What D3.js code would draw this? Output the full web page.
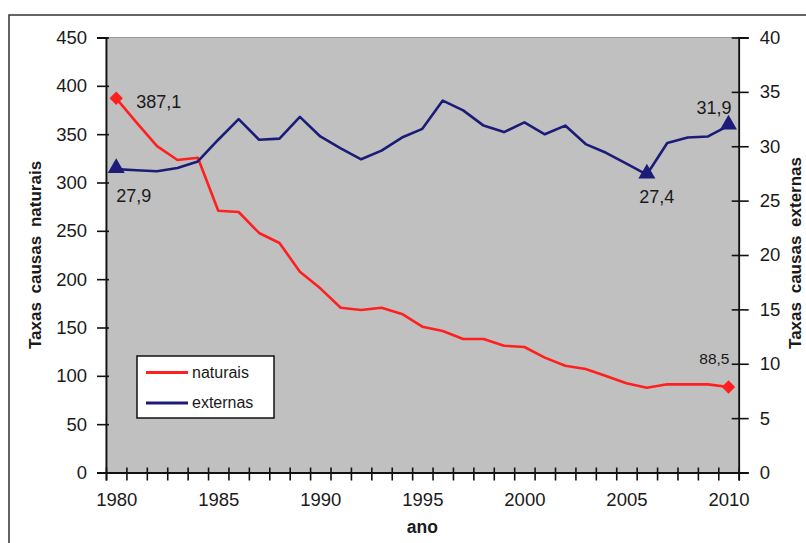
<!DOCTYPE html>
<html>
<head>
<meta charset="utf-8">
<script src="https://cdn.jsdelivr.net/npm/d3@7"></script>
<style>
  body { margin: 0; background: #fff; }
  svg text { font-family: "Liberation Sans", Arial, sans-serif; fill: #1a1a1a; }
</style>
</head>
<body>
<div id="chart"></div>
<script>
// Years on the category axis
const years = d3.range(1980, 2011);

// Rates from natural causes (left axis)
const naturais = [
  387.1, 362, 337.7, 323.3, 325.6, 270.8, 269.5, 247.8, 237.4, 207.7,
  190.5, 170.5, 168.1, 170.5, 164, 150.8, 146.4, 138.1, 138.1, 131.2,
  129.8, 118.8, 110.5, 107.1, 99.8, 92.3, 87.7, 91.2, 91.2, 91.2, 88.5
];

// Rates from external causes (right axis)
const externas = [
  27.9, 27.8, 27.7, 28.0, 28.6, 30.6, 32.5, 30.6, 30.7, 32.7,
  30.9, 29.8, 28.8, 29.6, 30.8, 31.6, 34.2, 33.3, 31.9, 31.3,
  32.2, 31.1, 31.9, 30.2, 29.4, 28.4, 27.4, 30.3, 30.8, 30.9, 31.9
];

const leftTicks = d3.range(0, 451, 50);
const rightTicks = d3.range(0, 41, 5);
const labelYears = [1980, 1985, 1990, 1995, 2000, 2005, 2010];

const width = 806;
const height = 543;
const plot = { left: 106, right: 738.7, top: 37.5, bottom: 472.5 };

const svg = d3.select("#chart")
  .append("svg")
  .attr("width", width)
  .attr("height", height);

// outer chart frame
svg.append("rect")
  .attr("x", 9).attr("y", 15)
  .attr("width", 900).attr("height", 600)
  .attr("fill", "none")
  .attr("stroke", "#333")
  .attr("stroke-width", 1.5);

// scales: categories sit between the tick marks, like Excel
const x = d3.scaleLinear().domain([1979.5, 2010.5]).range([plot.left, plot.right]);
const yL = d3.scaleLinear().domain([0, 450]).range([plot.bottom, plot.top]);
const yR = d3.scaleLinear().domain([0, 40]).range([plot.bottom, plot.top]);

// gray plot area
svg.append("rect")
  .attr("x", plot.left).attr("y", plot.top)
  .attr("width", plot.right - plot.left)
  .attr("height", plot.bottom - plot.top)
  .attr("fill", "#c0c0c0")
  .attr("stroke", "#9a9a9a")
  .attr("stroke-width", 1);

// left axis
const gL = svg.append("g")
  .attr("transform", `translate(${plot.left},0)`)
  .call(d3.axisLeft(yL).tickValues(leftTicks).tickSize(9).tickPadding(10));
gL.selectAll(".tick line").attr("x1", 3);

// right axis
const gR = svg.append("g")
  .attr("transform", `translate(${plot.right},0)`)
  .call(d3.axisRight(yR).tickValues(rightTicks).tickSize(10).tickPadding(11));
gR.selectAll(".tick line").attr("x1", -7);

// bottom axis: ticks on category edges
const gB = svg.append("g")
  .attr("transform", `translate(0,${plot.bottom})`)
  .call(d3.axisBottom(x).tickValues(d3.range(1979.5, 2011, 1)).tickSize(8).tickFormat(""));
gB.selectAll(".tick line").attr("y1", -5);

// bottom axis labels at category centres
const gB2 = svg.append("g")
  .attr("transform", `translate(0,${plot.bottom})`)
  .call(d3.axisBottom(x).tickValues(labelYears).tickSize(0).tickPadding(20).tickFormat(d3.format("d")));
gB2.select(".domain").remove();

[gL, gR, gB].forEach(g => {
  g.select(".domain").attr("stroke", "#111").attr("stroke-width", 1.8);
  g.selectAll(".tick line").attr("stroke", "#111").attr("stroke-width", 1.6);
});
[gL, gR, gB2].forEach(g => {
  g.selectAll(".tick text")
    .attr("font-size", 18.5)
    .attr("fill", "#1a1a1a")
    .style("font-family", "'Liberation Sans', Arial, sans-serif");
});

// axis titles
svg.append("text")
  .attr("transform", `translate(41,255) rotate(-90)`)
  .attr("text-anchor", "middle")
  .attr("font-size", 17)
  .attr("font-weight", "bold")
  .attr("word-spacing", 4)
  .text("Taxas causas naturais");

svg.append("text")
  .attr("transform", `translate(801,253) rotate(-90)`)
  .attr("text-anchor", "middle")
  .attr("font-size", 17)
  .attr("font-weight", "bold")
  .attr("word-spacing", 4)
  .text("Taxas causas externas");

svg.append("text")
  .attr("x", (plot.left + plot.right) / 2)
  .attr("y", 533)
  .attr("text-anchor", "middle")
  .attr("font-size", 17.5)
  .attr("font-weight", "bold")
  .text("ano");

// lines
const lineL = d3.line().x((d, i) => x(years[i])).y(d => yL(d));
const lineR = d3.line().x((d, i) => x(years[i])).y(d => yR(d));

const red = "#ff1f1f";
const navy = "#1c1c78";

svg.append("path")
  .datum(naturais)
  .attr("d", lineL)
  .attr("fill", "none")
  .attr("stroke", red)
  .attr("stroke-width", 2.6)
  .attr("stroke-linejoin", "round");

svg.append("path")
  .datum(externas)
  .attr("d", lineR)
  .attr("fill", "none")
  .attr("stroke", navy)
  .attr("stroke-width", 2.6)
  .attr("stroke-linejoin", "round");

// markers on highlighted points
const diamond = d3.symbol().type(d3.symbolDiamond2).size(115);
const triangle = d3.symbol().type(d3.symbolTriangle).size(125);

[0, naturais.length - 1].forEach(i => {
  svg.append("path")
    .attr("d", diamond())
    .attr("transform", `translate(${x(years[i])},${yL(naturais[i])})`)
    .attr("fill", red);
});

[0, 26, externas.length - 1].forEach(i => {
  svg.append("path")
    .attr("d", triangle())
    .attr("transform", `translate(${x(years[i])},${yR(externas[i]) - 1})`)
    .attr("fill", navy);
});

// value labels
const fmt = v => d3.format(".1f")(v).replace(".", ",");
const notes = [
  { i: 0, v: naturais[0], y: yL, dx: 20, dy: 10, anchor: "start", size: 18 },
  { i: 30, v: naturais[30], y: yL, dx: 1, dy: -23, anchor: "end", size: 15.5 },
  { i: 0, v: externas[0], y: yR, dx: 0, dy: 33, anchor: "start", size: 18 },
  { i: 26, v: externas[26], y: yR, dx: 10, dy: 28, anchor: "middle", size: 18 },
  { i: 30, v: externas[30], y: yR, dx: 3, dy: -12, anchor: "end", size: 18 }
];
notes.forEach(n => {
  svg.append("text")
    .attr("x", x(years[n.i]) + n.dx)
    .attr("y", n.y(n.v) + n.dy)
    .attr("text-anchor", n.anchor)
    .attr("font-size", n.size)
    .text(fmt(n.v));
});

// legend
const legend = svg.append("g").attr("transform", "translate(137,356)");
legend.append("rect")
  .attr("width", 137).attr("height", 62)
  .attr("fill", "#fff")
  .attr("stroke", "#111")
  .attr("stroke-width", 1.5);
const legendItems = [
  { name: "naturais", color: red },
  { name: "externas", color: navy }
];
legendItems.forEach((d, i) => {
  const yy = 16.5 + i * 30.5;
  legend.append("line")
    .attr("x1", 9).attr("x2", 51)
    .attr("y1", yy).attr("y2", yy)
    .attr("stroke", d.color)
    .attr("stroke-width", 2.8);
  legend.append("text")
    .attr("x", 55).attr("y", yy + 5)
    .attr("font-size", 16)
    .text(d.name);
});
</script>
</body>
</html>
